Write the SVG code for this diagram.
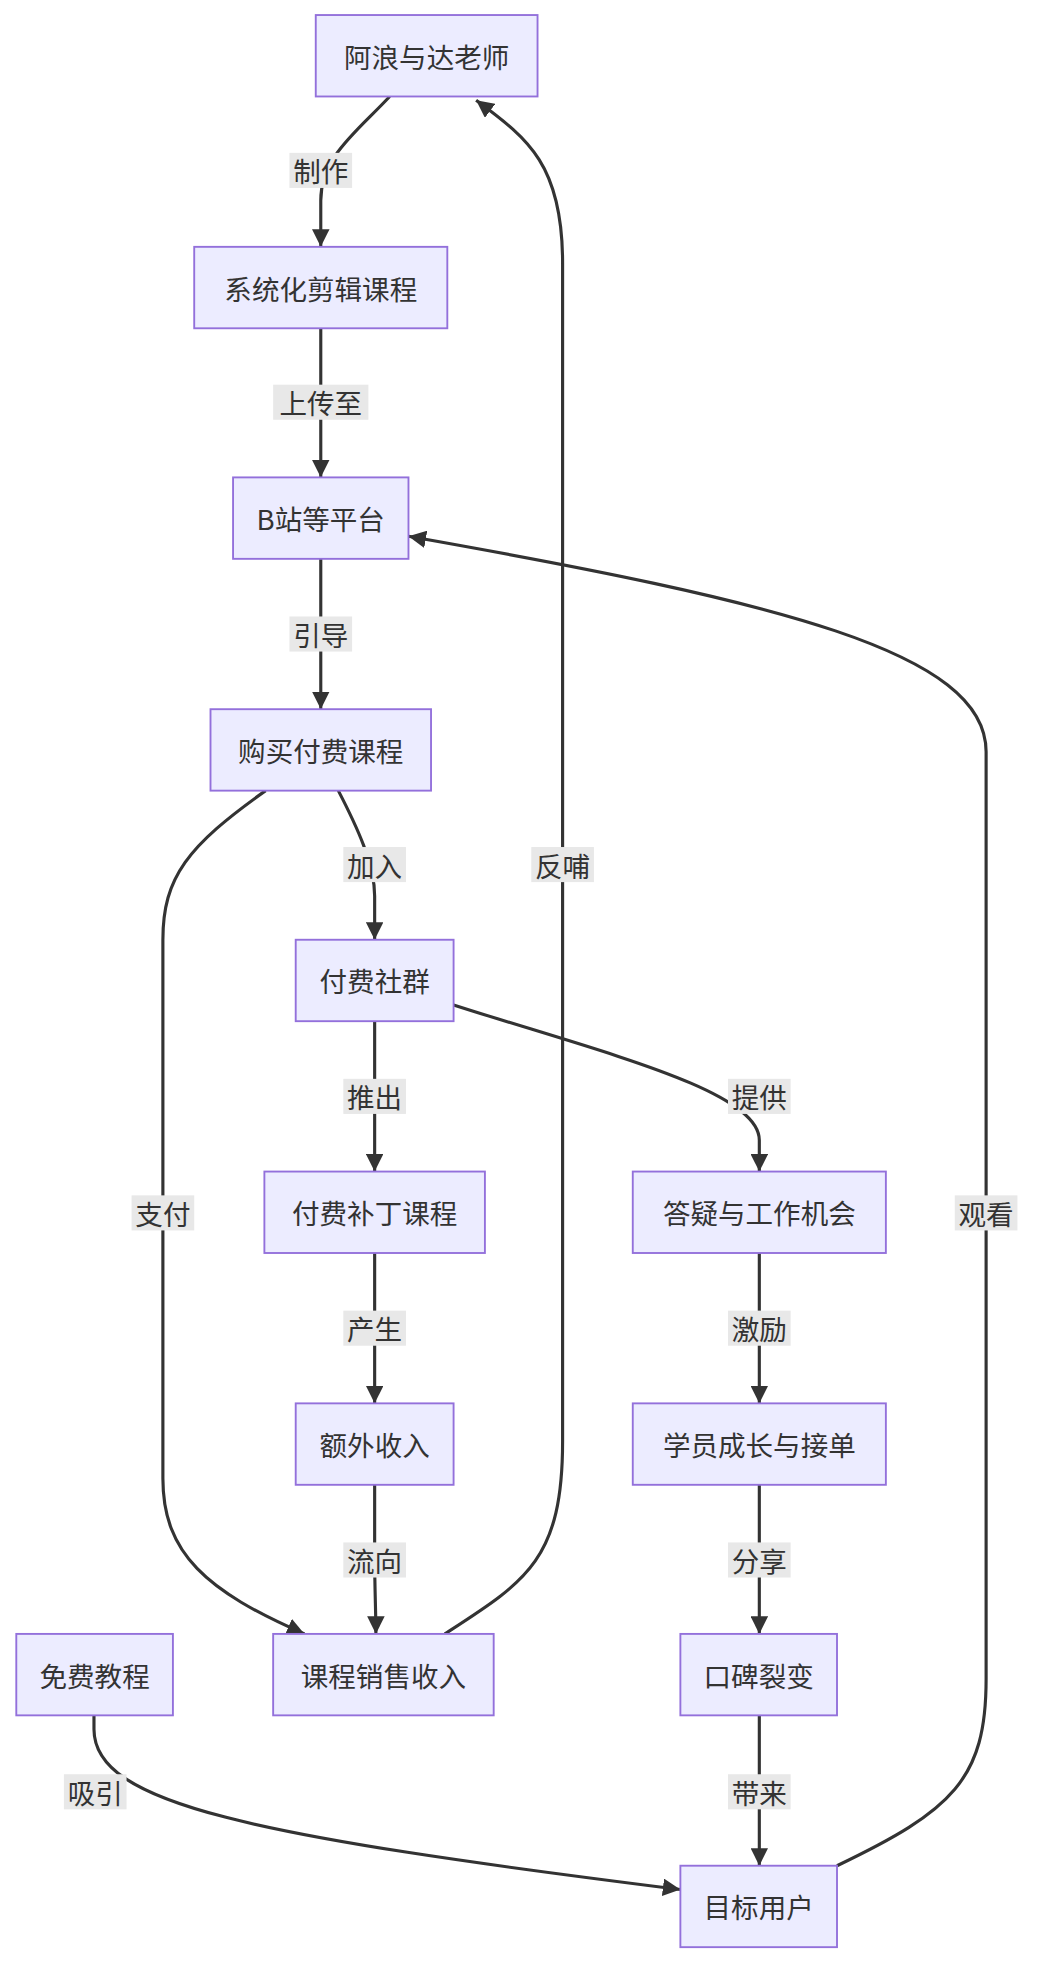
<svg xmlns="http://www.w3.org/2000/svg" width="1040" height="1974" viewBox="0 0 1040 1974">
<defs>
<style>
.n rect{fill:#ECECFF;stroke:#9370DB;stroke-width:1.5}
.n text,.l text{font-family:"Noto Sans CJK SC","Liberation Sans",sans-serif;font-size:22px;fill:#333;text-anchor:middle;dominant-baseline:central}
.e path{fill:none;stroke:#333;stroke-width:2.5}
.l rect{fill:#e8e8e8}
</style>
<marker id="a" viewBox="0 0 10 10" refX="10" refY="5" markerWidth="14" markerHeight="14" markerUnits="userSpaceOnUse" orient="auto"><path d="M0,0L10,5L0,10z" fill="#333"/></marker>
</defs>
<rect width="1040" height="1974" fill="#fff"/>
<g transform="scale(1.253)">
<g class="e" id="edges" marker-end="url(#a)">
<path marker-end="url(#a)" d="M311,77C285,105 256,125 256,160L256,197"/>
<path marker-end="url(#a)" d="M256,262L256,381"/>
<path marker-end="url(#a)" d="M256,446L256,566"/>
<path marker-end="url(#a)" d="M270,631C285,660 299,690 299,715L299,750"/>
<path marker-end="url(#a)" d="M299,815L299,935"/>
<path marker-end="url(#a)" d="M362,802C480,840 606,870 606,910L606,935"/>
<path marker-end="url(#a)" d="M299,1000L299,1120"/>
<path marker-end="url(#a)" d="M299,1185L299,1240C299,1270 300,1285 300,1304"/>
<path marker-end="url(#a)" d="M212,631C150,675 130,700 130,750L130,1180C130,1240 165,1270 243,1304"/>
<path marker-end="url(#a)" d="M355,1304C420,1262 449,1245 449,1150L449,210C449,130 420,110 380,80"/>
<path marker-end="url(#a)" d="M606,1000L606,1120"/>
<path marker-end="url(#a)" d="M606,1185L606,1304"/>
<path marker-end="url(#a)" d="M606,1369L606,1489"/>
<path marker-end="url(#a)" d="M75,1369L75,1380C75,1440 200,1465 543,1508"/>
<path marker-end="url(#a)" d="M668,1489C760,1445 787,1420 787,1340L787,600C787,520 620,480 326,428"/>
</g>
<g class="l" id="labels">
<rect x="231" y="122" width="50" height="28"/><text x="256" y="136">制作</text>
<rect x="218" y="307" width="76" height="28"/><text x="256" y="321">上传至</text>
<rect x="231" y="492" width="50" height="28"/><text x="256" y="506">引导</text>
<rect x="274" y="676" width="50" height="28"/><text x="299" y="690">加入</text>
<rect x="274" y="861" width="50" height="28"/><text x="299" y="875">推出</text>
<rect x="581" y="861" width="50" height="28"/><text x="606" y="875">提供</text>
<rect x="274" y="1046" width="50" height="28"/><text x="299" y="1060">产生</text>
<rect x="274" y="1231" width="50" height="28"/><text x="299" y="1245">流向</text>
<rect x="105" y="954" width="50" height="28"/><text x="130" y="968">支付</text>
<rect x="424" y="676" width="50" height="28"/><text x="449" y="690">反哺</text>
<rect x="581" y="1046" width="50" height="28"/><text x="606" y="1060">激励</text>
<rect x="581" y="1231" width="50" height="28"/><text x="606" y="1245">分享</text>
<rect x="581" y="1416" width="50" height="28"/><text x="606" y="1430">带来</text>
<rect x="51" y="1416" width="50" height="28"/><text x="76" y="1430">吸引</text>
<rect x="762" y="954" width="50" height="28"/><text x="787" y="968">观看</text>
</g>
<g class="n" id="n1"><rect x="252" y="12" width="177" height="65"/><text x="340.5" y="44.5">阿浪与达老师</text></g>
<g class="n" id="n2"><rect x="155" y="197" width="202" height="65"/><text x="256" y="229.5">系统化剪辑课程</text></g>
<g class="n" id="n3"><rect x="186" y="381" width="140" height="65"/><text x="256" y="413.5">B站等平台</text></g>
<g class="n" id="n4"><rect x="168" y="566" width="176" height="65"/><text x="256" y="598.5">购买付费课程</text></g>
<g class="n" id="n5"><rect x="236" y="750" width="126" height="65"/><text x="299" y="782.5">付费社群</text></g>
<g class="n" id="n6"><rect x="211" y="935" width="176" height="65"/><text x="299" y="967.5">付费补丁课程</text></g>
<g class="n" id="n7"><rect x="505" y="935" width="202" height="65"/><text x="606" y="967.5">答疑与工作机会</text></g>
<g class="n" id="n8"><rect x="236" y="1120" width="126" height="65"/><text x="299" y="1152.5">额外收入</text></g>
<g class="n" id="n9"><rect x="505" y="1120" width="202" height="65"/><text x="606" y="1152.5">学员成长与接单</text></g>
<g class="n" id="n10"><rect x="13" y="1304" width="125" height="65"/><text x="75.5" y="1336.5">免费教程</text></g>
<g class="n" id="n11"><rect x="218" y="1304" width="176" height="65"/><text x="306" y="1336.5">课程销售收入</text></g>
<g class="n" id="n12"><rect x="543" y="1304" width="125" height="65"/><text x="605.5" y="1336.5">口碑裂变</text></g>
<g class="n" id="n13"><rect x="543" y="1489" width="125" height="65"/><text x="605.5" y="1521.5">目标用户</text></g>
</g>
</svg>
